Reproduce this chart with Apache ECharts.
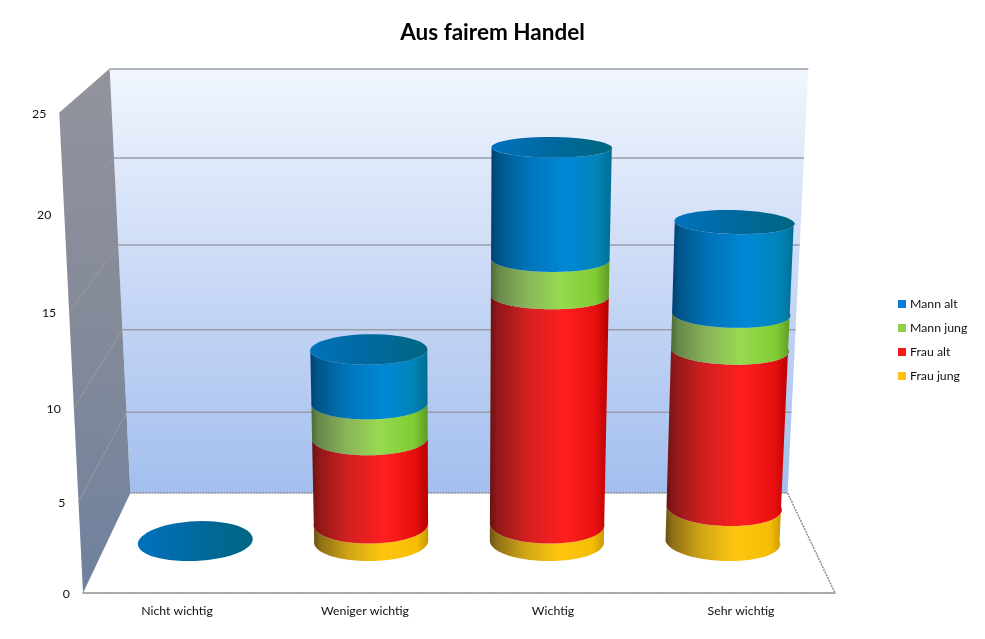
<!DOCTYPE html>
<html>
<head>
<meta charset="utf-8">
<style>html,body{margin:0;padding:0;background:#fff}#c{width:985px;height:639px}</style>
<script src="https://cdn.jsdelivr.net/npm/echarts@6/dist/echarts.min.js"></script>
</head>
<body>
<div id="c"></div>
<script>
const title = 'Aus fairem Handel';
const categories = ['Nicht wichtig', 'Weniger wichtig', 'Wichtig', 'Sehr wichtig'];
const frauJung = [0, 1, 1, 2];
const frauAlt  = [0, 5, 13, 9];
const mannJung = [0, 2, 2, 2];
const mannAlt  = [0, 3, 6, 5];
const yTicks = [0, 5, 10, 15, 20, 25];
const legendOrder = ['Mann alt', 'Mann jung', 'Frau alt', 'Frau jung'];

const FONT = 'Lato, "Open Sans", sans-serif';
const K = 0.06;
const fade = t => t * (1 - K) / (1 - K * t);

// Perspective of the box: d = 0 at the front edge, d = 1 at the back wall.
function project(cs, px, py, d) {
  const bottom = cs.y + cs.height;
  const t = (bottom - py) / cs.height;
  const f = fade(t);
  const cx = cs.x + cs.width / 2;
  return [
    cx + (px - cx) * (1 - 0.126 * d) * (1 + 0.063 * f),
    bottom - cs.height * 0.2083 * d - cs.height * (1 - 0.1167 * d) * f
  ];
}
function grad(stops) {
  return { type: 'linear', x: 0, y: 0, x2: 1, y2: 0,
    colorStops: stops.map(s => ({ offset: s[0], color: s[1] })) };
}
const DEPTH = 0.52, RADIUS_D = 0.2, RADIUS_X = 0.3245;
function rim(params, api, cat, v, from, to) {
  const cs = params.coordSys;
  const c = api.coord([cat, v]);
  const r = api.size([1, 0])[0] * RADIUS_X;
  const pts = [];
  const n = 56;
  for (let i = 0; i <= n; i++) {
    const a = from + (to - from) * i / n;
    pts.push(project(cs, c[0] + r * Math.cos(a), c[1], DEPTH + RADIUS_D * Math.sin(a)));
  }
  return pts;
}

const stackDefs = [
  { name: 'Frau jung', values: frauJung, color: '#fdc00f',
    side: [[0,'#6b5012'],[0.06,'#8f7015'],[0.3,'#cfa318'],[0.6,'#ffc60f'],[0.9,'#f6bd05'],[1,'#c89800']] },
  { name: 'Frau alt', values: frauAlt, color: '#f81a1a',
    side: [[0,'#6a1212'],[0.06,'#8f1818'],[0.3,'#d02020'],[0.62,'#ff1f1f'],[0.88,'#e81010'],[1,'#b80000']] },
  { name: 'Mann jung', values: mannJung, color: '#92d050',
    side: [[0,'#4c6a34'],[0.06,'#66884a'],[0.3,'#8ab45a'],[0.58,'#97da50'],[0.88,'#80cc34'],[1,'#5e9a24']] },
  { name: 'Mann alt', values: mannAlt, color: '#0080d0',
    side: [[0,'#004070'],[0.06,'#005488'],[0.3,'#0074ba'],[0.62,'#0088d6'],[0.88,'#0084b8'],[1,'#006e92']] }
];
const CAP = [[0,'#0072bc'],[0.5,'#00699f'],[1,'#006680']];

function stackBase(si, i) {
  let s = 0;
  for (let k = 0; k < si; k++) s += stackDefs[k].values[i];
  return s;
}
function cylinderSeries(def, si) {
  return {
    type: 'custom', name: def.name, coordinateSystem: 'cartesian2d',
    itemStyle: { color: def.color }, silent: true, z: 3,
    encode: { x: 0, y: 1 },
    data: def.values.map((v, i) => [i, v]),
    renderItem(params, api) {
      const i = api.value(0), v = api.value(1);
      const base = stackBase(si, i), top = base + v;
      const children = [];
      if (v > 0) {
        const low = rim(params, api, i, base, Math.PI, 2 * Math.PI);
        const up = rim(params, api, i, top, 2 * Math.PI, Math.PI);
        children.push({ type: 'polygon', shape: { points: low.concat(up) },
          style: { fill: grad(def.side) } });
      }
      if (si === stackDefs.length - 1) {
        children.push({ type: 'polygon',
          shape: { points: rim(params, api, i, top, 0, 2 * Math.PI) },
          style: { fill: grad(CAP) } });
      }
      return { type: 'group', children };
    }
  };
}

const wallSeries = {
  type: 'custom', name: 'Wände', coordinateSystem: 'cartesian2d', silent: true, z: 1,
  data: [[0, 0]],
  renderItem(params, api) {
    const cs = params.coordSys;
    const L = cs.x, R = cs.x + cs.width;
    const B = api.coord([0, yTicks[0]])[1], T = api.coord([0, yTicks[yTicks.length - 1]])[1];
    const bl = project(cs, L, B, 1), br = project(cs, R, B, 1);
    const tl = project(cs, L, T, 1), tr = project(cs, R, T, 1);
    const fl = project(cs, L, B, 0), fr = project(cs, R, B, 0), ftl = project(cs, L, T, 0);
    const dot = { stroke: '#8d8d8d', lineWidth: 1.5, lineDash: [2, 1] };
    return { type: 'group', children: [
      { type: 'polygon', shape: { points: [tl, tr, br, bl] },
        style: { fill: { type: 'linear', x: 0, y: 0, x2: 0, y2: 1, colorStops: [
          { offset: 0, color: '#f1f6fe' }, { offset: 0.45, color: '#cddbf6' }, { offset: 1, color: '#a3bfee' }] } } },
      { type: 'polygon', shape: { points: [ftl, tl, bl, fl] },
        style: { fill: { type: 'linear', x: 0, y: 0, x2: 0, y2: 1, colorStops: [
          { offset: 0, color: '#92939d' }, { offset: 0.5, color: '#848a99' }, { offset: 1, color: '#6f819f' }] } } },
      { type: 'line', shape: { x1: bl[0], y1: bl[1], x2: br[0], y2: br[1] }, style: dot },
      { type: 'line', shape: { x1: br[0], y1: br[1], x2: fr[0], y2: fr[1] }, style: dot }
    ] };
  }
};

const scaleSeries = {
  type: 'custom', name: 'Skala', coordinateSystem: 'cartesian2d', silent: true, z: 2,
  data: yTicks.map(v => [0, v]),
  renderItem(params, api) {
    const cs = params.coordSys;
    const v = api.value(1);
    const py = api.coord([0, v])[1];
    const L = cs.x, R = cs.x + cs.width;
    const a = project(cs, L, py, 0), b = project(cs, L, py, 1), c = project(cs, R, py, 1);
    const children = [
      { type: 'text', style: { text: String(v), x: a[0] - 13, y: a[1] + 1, align: 'right',
        verticalAlign: 'middle', fill: '#111', font: '12.3px ' + FONT } }
    ];
    if (v > 0) {
      children.push({ type: 'line', shape: { x1: a[0], y1: a[1], x2: b[0], y2: b[1] },
        style: { stroke: '#9d9b96', lineWidth: 1 } });
      children.push({ type: 'line', shape: { x1: b[0], y1: b[1], x2: c[0], y2: c[1] },
        style: { stroke: '#9a9da6', lineWidth: 1.5 } });
    }
    return { type: 'group', children };
  }
};

const chart = echarts.init(document.getElementById('c'));
chart.setOption({
  animation: false,
  backgroundColor: '#fff',
  title: { text: title, left: 'center', top: 16,
    textStyle: { fontFamily: FONT, fontSize: 22.5, fontWeight: 'bold', color: '#000' } },
  legend: {
    data: legendOrder, orient: 'vertical', left: 893, top: 292,
    icon: 'rect', itemWidth: 8, itemHeight: 8, itemGap: 10, selectedMode: false,
    textStyle: { fontFamily: FONT, fontSize: 12.3, color: '#111', padding: [0, 0, 0, -1], lineHeight: 14 }
  },
  grid: { left: 83, right: 150, top: 113, bottom: 46 },
  xAxis: {
    type: 'category', data: categories, boundaryGap: true,
    axisLine: { show: true, lineStyle: { color: '#8d8d8d', width: 1.5, type: [2, 1] } },
    axisTick: { show: false },
    axisLabel: { margin: 12, fontFamily: FONT, fontSize: 12.3, color: '#111' }
  },
  yAxis: {
    type: 'value', min: 0, max: 25, interval: 5,
    axisLine: { show: false }, axisTick: { show: false },
    axisLabel: { show: false }, splitLine: { show: false }
  },
  series: [wallSeries, scaleSeries].concat(stackDefs.map(cylinderSeries))
});
</script>
</body>
</html>
